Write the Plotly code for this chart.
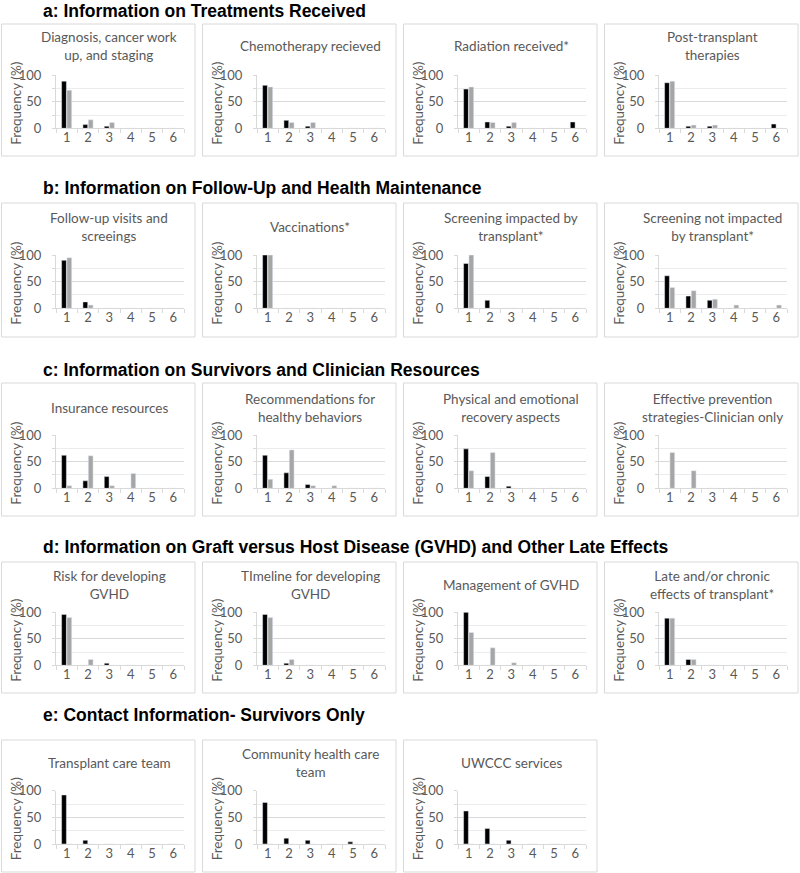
import plotly.graph_objects as go

categories = ["1", "2", "3", "4", "5", "6"]

section_titles = [
    "a: Information on Treatments Received",
    "b: Information on Follow-Up and Health Maintenance",
    "c: Information on Survivors and Clinician Resources",
    "d: Information on Graft versus Host Disease (GVHD) and Other Late Effects",
    "e: Contact Information- Survivors Only",
]

panel_titles = [
    ["Diagnosis, cancer work<br>up, and staging", "Chemotherapy recieved",
     "Radiation received*", "Post-transplant<br>therapies"],
    ["Follow-up visits and<br>screeings", "Vaccinations*",
     "Screening impacted by<br>transplant*", "Screening not impacted<br>by transplant*"],
    ["Insurance resources", "Recommendations for<br>healthy behaviors",
     "Physical and emotional<br>recovery aspects", "Effective prevention<br>strategies-Clinician only"],
    ["Risk for developing<br>GVHD", "TImeline for developing<br>GVHD",
     "Management of GVHD", "Late and/or chronic<br>effects of transplant*"],
    ["Transplant care team", "Community health care<br>team", "UWCCC services"],
]

# Survivors (black)
survivors = [
    [[89, 7, 4, 0, 0, 0], [81, 15, 4, 0, 0, 0], [74, 12, 4, 0, 0, 12], [86, 4, 4, 0, 0, 8]],
    [[90, 12, 0, 0, 0, 0], [100, 0, 0, 0, 0, 0], [84, 15, 0, 0, 0, 0], [61, 23, 15, 0, 0, 0]],
    [[62, 14, 22, 0, 0, 0], [62, 29, 7, 0, 0, 0], [74, 22, 4, 0, 0, 0], [0, 0, 0, 0, 0, 0]],
    [[96, 0, 4, 0, 0, 0], [96, 4, 0, 0, 0, 0], [100, 0, 0, 0, 0, 0], [89, 11, 0, 0, 0, 0]],
    [[92, 7, 0, 0, 0, 0], [78, 11, 7, 0, 4, 0], [62, 29, 7, 0, 0, 0]],
]

# Clinicians (gray)
clinicians = [
    [[72, 16, 11, 0, 0, 0], [78, 11, 11, 0, 0, 0], [78, 11, 11, 0, 0, 0], [89, 6, 6, 0, 0, 0]],
    [[95, 6, 0, 0, 0, 0], [100, 0, 0, 0, 0, 0], [100, 0, 0, 0, 0, 0], [39, 33, 17, 6, 0, 6]],
    [[5, 61, 5, 28, 0, 0], [17, 72, 5, 5, 0, 0], [33, 67, 0, 0, 0, 0], [67, 33, 0, 0, 0, 0]],
    [[90, 11, 0, 0, 0, 0], [90, 11, 0, 0, 0, 0], [62, 33, 5, 0, 0, 0], [89, 11, 0, 0, 0, 0]],
    [[0, 0, 0, 0, 0, 0], [0, 0, 0, 0, 0, 0], [0, 0, 0, 0, 0, 0]],
]

W, H = 800, 873
TEXT = "#595959"
FONT = "Lato"
GRID = "#d9d9d9"
MINOR = "#ececec"

box_x0 = [1, 202, 403, 604]
box_w = 194
row_box_top = [24, 203, 383, 562, 740]
row_box_bot = [156, 337, 516, 693, 872]
row_plot_top = [75.3, 255, 435, 612.3, 790.7]
row_plot_bot = [128.3, 308.3, 488.3, 665.3, 844]
row_title_y = [11, 188, 370, 547, 715]
row_ptitle_y = [46, 227, 408, 585, 763]


def px(x):
    return x / W


def py(y):
    return 1 - y / H


fig = go.Figure()
layout = dict(
    width=W, height=H, margin=dict(l=0, r=0, t=0, b=0, pad=0, autoexpand=False),
    paper_bgcolor="white", plot_bgcolor="white",
    barmode="group", bargap=0.5, bargroupgap=0.1,
    showlegend=False,
    font=dict(family=FONT, color=TEXT, size=13),
)
shapes = []
annotations = []

n = 0
for r, row_titles in enumerate(panel_titles):
    annotations.append(dict(
        text="<b>" + section_titles[r] + "</b>", x=px(42), y=py(row_title_y[r]),
        xref="paper", yref="paper", xanchor="left", yanchor="middle",
        showarrow=False, borderpad=0,
        font=dict(family="Liberation Sans", size=17.5, color="black"),
    ))
    for c, title in enumerate(row_titles):
        n += 1
        x0 = box_x0[c]
        xa = "x" if n == 1 else f"x{n}"
        ya = "y" if n == 1 else f"y{n}"
        fig.add_trace(go.Bar(x=categories, y=survivors[r][c], marker_color="#000000",
                             xaxis=xa, yaxis=ya, name="Survivors"))
        fig.add_trace(go.Bar(x=categories, y=clinicians[r][c], marker_color="#a6a6a6",
                             xaxis=xa, yaxis=ya, name="Clinicians"))
        xkey = "xaxis" if n == 1 else f"xaxis{n}"
        ykey = "yaxis" if n == 1 else f"yaxis{n}"
        layout[xkey] = dict(
            domain=[px(x0 + 55), px(x0 + 183)], anchor=ya, type="category",
            showline=True, linecolor=GRID, linewidth=1,
            ticks="outside", ticklen=4, tickcolor=GRID, tickson="boundaries",
            showgrid=False, ticklabelstandoff=-3, automargin=False,
            tickfont=dict(family=FONT, size=13, color=TEXT), fixedrange=True,
        )
        layout[ykey] = dict(
            domain=[py(row_plot_bot[r]), py(row_plot_top[r])], anchor=xa,
            range=[0, 100], tickvals=[0, 50, 100], showline=True, linecolor=GRID,
            ticks="outside", ticklen=3, tickcolor=GRID, showgrid=True, gridcolor=GRID,
            zeroline=False, ticklabelstandoff=8, automargin=False,
            minor=dict(dtick=25, ticks="outside", ticklen=3, tickcolor=GRID,
                       showgrid=True, gridcolor=MINOR),
            tickfont=dict(family=FONT, size=13, color=TEXT), fixedrange=True,
        )
        shapes.append(dict(type="rect", xref="paper", yref="paper",
                           x0=px(x0 + 0.5), x1=px(x0 + box_w),
                           y0=py(row_box_bot[r]), y1=py(row_box_top[r]),
                           line=dict(color=GRID, width=1), fillcolor="rgba(0,0,0,0)",
                           layer="below"))
        annotations.append(dict(
            text=title, x=px(x0 + 108), y=py(row_ptitle_y[r]), xref="paper", yref="paper",
            xanchor="center", yanchor="middle", showarrow=False,
            font=dict(family=FONT, size=13.5, color=TEXT),
        ))
        annotations.append(dict(
            text="Frequency (%)", x=px(x0 + 15),
            y=py((row_plot_top[r] + row_plot_bot[r]) / 2 + 2),
            xref="paper", yref="paper", xanchor="center", yanchor="middle",
            textangle=-90, showarrow=False, font=dict(family=FONT, size=13.5, color=TEXT),
        ))

layout["shapes"] = shapes
layout["annotations"] = annotations
fig.update_layout(**layout)

post = (
    "var de=document.documentElement, b=document.body;"
    "de.style.margin='0';de.style.padding='0';de.style.overflow='hidden';"
    "b.style.margin='0';b.style.padding='0';b.style.overflow='hidden';"
)
fig.write_html("out.html", config={"displayModeBar": False}, post_script=post)
